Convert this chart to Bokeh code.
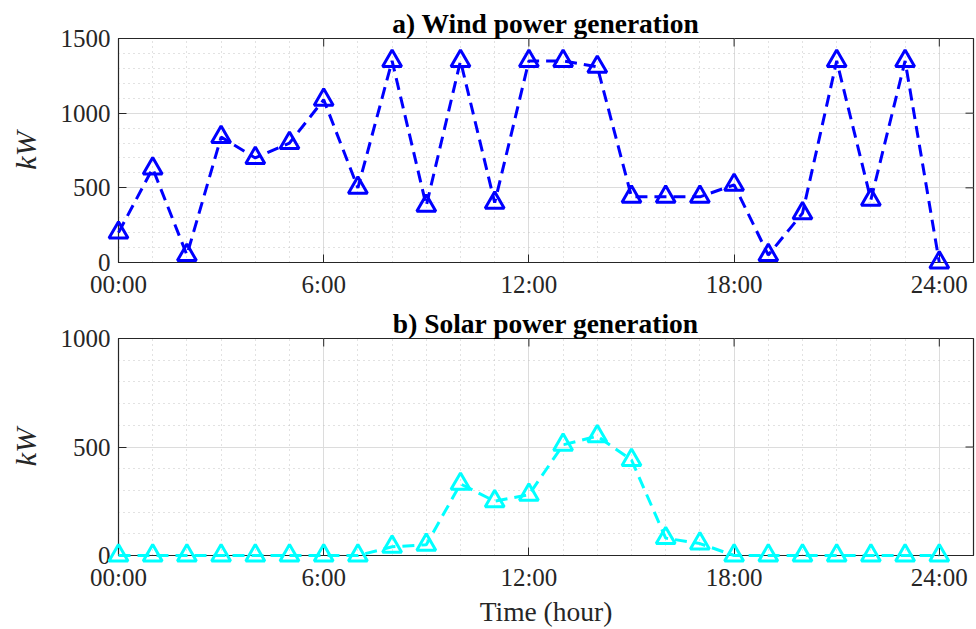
import math
from bokeh.plotting import figure
from bokeh.layouts import column
from bokeh.models import Range1d, FixedTicker
from bokeh.embed import file_html
from bokeh.resources import INLINE

hours = list(range(0, 25))
wind_kw = [200, 630, 50, 840, 700, 800, 1090, 500, 1350, 380, 1350, 400,
           1350, 1350, 1310, 440, 440, 440, 520, 50, 330, 1350, 420, 1350, 0]
solar_kw = [0, 0, 0, 0, 0, 0, 0, 0, 40, 50, 330, 250,
            280, 510, 550, 440, 80, 55, 0, 0, 0, 0, 0, 0, 0]
x_ticks = [0, 6, 12, 18, 24]
x_tick_labels = ["00:00", "6:00", "12:00", "18:00", "24:00"]
X_MAX = 25

FONT = "Liberation Serif"
AX_COLOR = "#262626"


def style_axis(ax):
    ax.major_label_text_font = FONT
    ax.major_label_text_font_size = "25px"
    ax.major_label_text_color = AX_COLOR
    ax.axis_line_color = AX_COLOR
    ax.major_tick_line_color = AX_COLOR
    ax.major_tick_in = 8
    ax.major_tick_out = 0
    ax.minor_tick_in = 0
    ax.minor_tick_out = 0
    ax.major_label_standoff = 8
    ax.axis_label_text_font = FONT
    ax.axis_label_text_font_size = "27.5px"
    ax.axis_label_text_color = AX_COLOR


def make_fig(title, y_max, y_step, y_minor_step, values, color, height,
             border_top, border_bottom, border_left, border_right, xlabel=None):
    p = figure(width=976, height=height, output_backend="svg", toolbar_location=None,
               x_range=Range1d(0, X_MAX), y_range=Range1d(0, y_max))
    p.min_border_left = border_left
    p.min_border_right = border_right
    p.min_border_top = border_top
    p.min_border_bottom = border_bottom
    p.title.text = title
    p.title.align = "center"
    p.title.text_font = FONT
    p.title.text_font_size = "27.5px"
    p.title.text_font_style = "bold"
    p.title.text_color = "black"
    p.title.standoff = 0
    p.outline_line_color = AX_COLOR
    p.outline_line_width = 1.2

    y_ticks = list(range(0, y_max + 1, y_step))
    xt = FixedTicker(ticks=x_ticks, minor_ticks=list(range(0, X_MAX + 1)))
    yt = FixedTicker(ticks=y_ticks, minor_ticks=list(range(0, y_max + 1, y_minor_step)))
    p.xaxis.ticker = xt
    p.yaxis.ticker = yt
    p.xaxis.major_label_overrides = {t: l for t, l in zip(x_ticks, x_tick_labels)}
    style_axis(p.xaxis[0])
    style_axis(p.yaxis[0])
    p.yaxis.axis_label = "kW"
    p.yaxis.axis_label_text_font_style = "italic"
    p.yaxis.axis_label_text_font_size = "30px"
    p.yaxis.axis_label_standoff = 16
    if xlabel:
        p.xaxis.axis_label = xlabel
        p.xaxis.axis_label_text_font_style = "normal"
        p.xaxis.axis_label_standoff = 2

    for g in (p.xgrid[0], p.ygrid[0]):
        g.grid_line_color = "#dcdcdc"
        g.grid_line_width = 1
        g.minor_grid_line_color = "#c4c4c4"
        g.minor_grid_line_dash = "1 4"
        g.minor_grid_line_width = 1

    # mirrored inward tick marks on the right and top edges (clipped by the frame)
    p.scatter([X_MAX] * len(y_ticks), y_ticks, marker="dash", size=16,
              line_color=AX_COLOR, line_width=1)
    p.scatter(x_ticks, [y_max] * len(x_ticks), marker="dash", size=16, angle=math.pi / 2,
              line_color=AX_COLOR, line_width=1)

    p.line(hours, values, line_color=color, line_width=3, line_dash="12 7",
           level="overlay")
    p.scatter(hours, values, marker="triangle", size=19, fill_color=None,
              line_color=color, line_width=3, level="overlay")
    return p


p1 = make_fig("a) Wind power generation", 1500, 500, 100, wind_kw, "#0000ff",
              300, 38, 38, 113, 3)
p2 = make_fig("b) Solar power generation", 1000, 500, 100, solar_kw, "#00ffff",
              329, 38, 73, 118, 1, xlabel="Time (hour)")

layout = column(p1, p2, spacing=0)
open("out.html", "w").write(file_html(layout, INLINE))
